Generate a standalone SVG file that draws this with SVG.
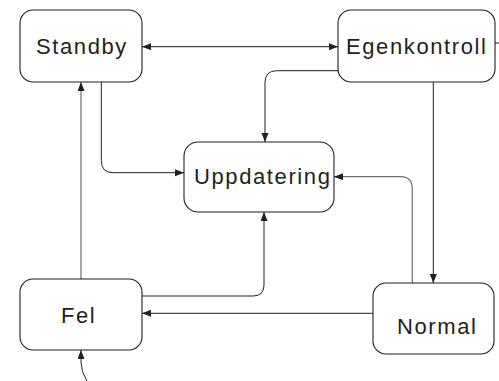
<svg xmlns="http://www.w3.org/2000/svg" width="499" height="381" viewBox="0 0 499 381">
<style>
.box{fill:#ffffff;stroke:#231f20;stroke-width:1.1}
.lbl{font-family:"Liberation Sans",Arial,sans-serif;font-size:22px;letter-spacing:1.6px;fill:#231f20}
.c{fill:none;stroke:#231f20;stroke-width:1}
.g{fill:none;stroke:#6d6e71;stroke-width:1.2}
</style>
<defs>
<marker id="ah" markerUnits="userSpaceOnUse" markerWidth="10" markerHeight="8" refX="9" refY="3.5" orient="auto-start-reverse">
<path d="M0,0 L9,3.5 L0,7 z" fill="#231f20"/>
</marker>
</defs>
<rect width="499" height="381" fill="#ffffff"/>
<g id="connectors">
<path class="c" d="M142,46.7 H338" marker-start="url(#ah)" marker-end="url(#ah)"/>
<path class="c" d="M338,70.7 H277 Q265,70.7 265,82.7 V142" marker-end="url(#ah)"/>
<path class="c" d="M101.3,82 V160.7 Q101.3,172.7 113.3,172.7 H184" marker-end="url(#ah)"/>
<path class="g" d="M81,279 V82" marker-end="url(#ah)"/>
<path class="c" d="M433.3,82 V283" marker-end="url(#ah)"/>
<path class="g" d="M412.3,283 V188.7 Q412.3,176.7 400.3,176.7 H334" marker-end="url(#ah)"/>
<path class="c" d="M142,296 H253 Q264,296 264,285 V212" marker-end="url(#ah)"/>
<path class="c" d="M373,313.3 H142" marker-end="url(#ah)"/>
<path class="c" d="M87,381 Q81,372 81,362 V350" marker-end="url(#ah)"/>
<path class="c" d="M495,43 H499"/>
</g>
<g id="standby">
<rect class="box" x="20" y="10" width="122" height="72" rx="13"/>
<text class="lbl" x="36" y="53.5">Standby</text>
</g>
<g id="egenkontroll">
<rect class="box" x="338" y="10" width="157" height="72" rx="13"/>
<text class="lbl" x="346" y="53.5">Egenkontroll</text>
</g>
<g id="uppdatering">
<rect class="box" x="184" y="142" width="150" height="70" rx="14"/>
<text class="lbl" x="194" y="183.5">Uppdatering</text>
</g>
<g id="fel">
<rect class="box" x="20" y="279" width="122" height="71" rx="13"/>
<text class="lbl" x="61" y="322.5">Fel</text>
</g>
<g id="normal">
<rect class="box" x="373" y="283" width="121" height="71" rx="13"/>
<text class="lbl" x="397" y="333.5">Normal</text>
</g>
</svg>
